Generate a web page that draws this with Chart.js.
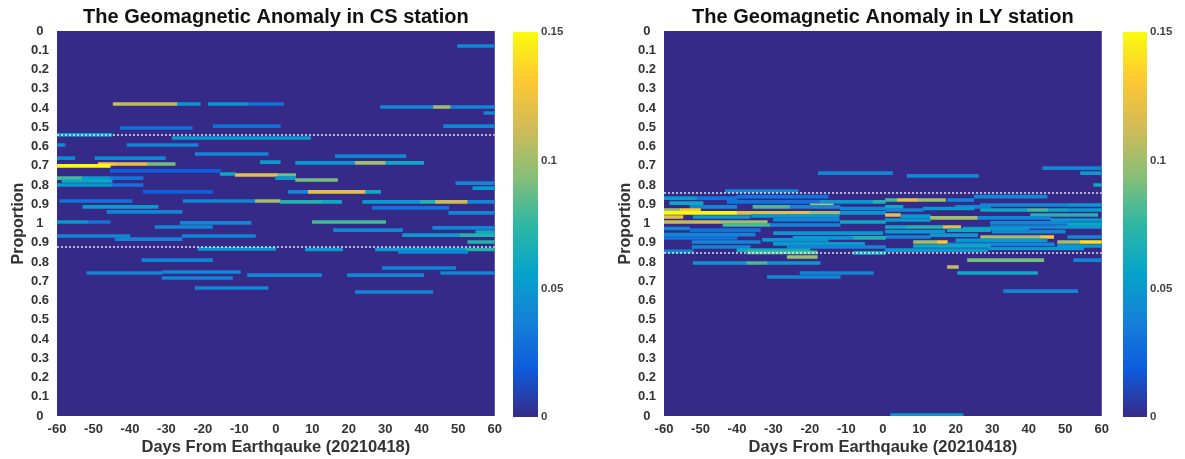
<!DOCTYPE html>
<html>
<head>
<meta charset="utf-8">
<script src="https://cdn.jsdelivr.net/npm/chart.js@4.4.1/dist/chart.umd.min.js"></script>
<style>
  body { margin: 0; background: #fff; width: 1185px; height: 459px; overflow: hidden; position: relative; }
  canvas { position: absolute; top: 0; }
</style>
</head>
<body>
<canvas id="csChart" width="508" height="459" style="left:0px"></canvas>
<canvas id="csBar" width="95" height="459" style="left:505px"></canvas>
<canvas id="lyChart" width="508" height="459" style="left:607px"></canvas>
<canvas id="lyBar" width="78" height="459" style="left:1107px"></canvas>
<script>
// tick labels
const dayTicks = [-60, -50, -40, -30, -20, -10, 0, 10, 20, 30, 40, 50, 60];
const proportionLabels = ['0', '0.1', '0.2', '0.3', '0.4', '0.5', '0.6', '0.7', '0.8', '0.9', '1',
    '0.9', '0.8', '0.7', '0.6', '0.5', '0.4', '0.3', '0.2', '0.1', '0'];
const colorbarTicks = [0, 0.05, 0.1, 0.15];
const colorbarLabels = ['0', '0.05', '0.1', '0.15'];
const colorMax = 0.15;

// dotted threshold rows (position on the proportion axis, 0 = top, 20 = bottom)
const csThresholds = [5.40, 11.22];
const lyThresholds = [8.42, 11.53];

// anomaly segments: [row, startDay, endDay, value]
const csSegments = [
    [0.78, 49.8, 60, 0.04],
    [3.79, -44.6, -27.0, 0.11], [3.79, -27.0, -20.7, 0.05], [3.79, -18.5, -7.8, 0.05], [3.79, -7.8, 2.1, 0.03],
    [3.95, 28.7, 43.2, 0.04], [3.95, 43.2, 47.9, 0.10], [3.95, 47.9, 60, 0.04],
    [4.26, 57.0, 60, 0.04],
    [4.94, -17.2, 1.2, 0.03], [4.94, 46.0, 60, 0.04],
    [5.04, -42.7, -22.9, 0.03],
    [5.40, -60, -44.9, 0.05],
    [5.56, -28.4, 9.5, 0.05],
    [5.92, -40.8, -21.3, 0.04], [5.92, -60, -57.8, 0.04],
    [6.39, -22.1, -2.1, 0.04],
    [6.50, 16.3, 35.6, 0.04],
    [6.60, -49.6, -30.3, 0.04], [6.60, -60, -55.1, 0.04],
    [6.81, -4.3, 1.2, 0.05],
    [6.85, 5.4, 21.8, 0.05], [6.85, 21.8, 30.1, 0.10], [6.85, 30.1, 40.5, 0.06],
    [6.91, -48.7, -44.1, 0.13], [6.91, -44.1, -35.3, 0.12], [6.91, -35.3, -27.6, 0.09],
    [7.01, -60, -45.4, 0.15],
    [7.27, -45.4, -15.2, 0.02],
    [7.43, -15.2, -11.1, 0.06],
    [7.48, -11.1, 0.5, 0.12], [7.48, 0.5, 5.4, 0.09],
    [7.64, -60, -53.1, 0.08], [7.64, -53.1, -45.4, 0.05], [7.64, -45.4, -36.4, 0.03], [7.64, -0.1, 5.4, 0.05],
    [7.74, 5.4, 16.9, 0.09],
    [7.79, -58.6, -44.9, 0.06],
    [7.90, 49.3, 60, 0.04],
    [8.00, -60, -44.9, 0.05], [8.00, -44.9, -36.4, 0.03],
    [8.16, 54.0, 60, 0.05],
    [8.36, -36.4, -17.4, 0.02], [8.36, 3.4, 8.9, 0.04], [8.36, 8.9, 24.6, 0.12], [8.36, 24.6, 28.7, 0.06],
    [8.83, -59.2, -39.4, 0.03], [8.83, -25.4, -5.6, 0.04], [8.83, -5.6, 1.2, 0.10],
    [8.88, 1.2, 12.8, 0.07], [8.88, 12.8, 18.0, 0.06], [8.88, 23.8, 39.7, 0.05], [8.88, 39.7, 43.8, 0.07],
    [8.88, 43.8, 52.6, 0.11], [8.88, 52.6, 60, 0.04],
    [9.14, -52.9, -32.3, 0.05],
    [9.19, 26.5, 47.4, 0.03],
    [9.40, -46.3, -25.7, 0.04],
    [9.45, 47.4, 60, 0.04],
    [9.92, -60, -51.5, 0.05], [9.92, -51.5, -45.4, 0.03], [9.92, 10.0, 30.1, 0.08],
    [9.97, -26.2, -6.8, 0.04],
    [10.18, -33.1, -17.4, 0.04],
    [10.23, 43.0, 60, 0.04],
    [10.34, 15.8, 34.7, 0.04],
    [10.44, 54.8, 60, 0.06],
    [10.60, 34.7, 50.5, 0.05], [10.60, 50.5, 60, 0.07],
    [10.65, -60, -40.0, 0.04], [10.65, -25.7, -5.6, 0.04],
    [10.81, -44.1, -25.7, 0.04],
    [10.96, 52.6, 60, 0.07],
    [11.32, -21.3, 0.0, 0.05],
    [11.35, 8.1, 18.3, 0.05], [11.35, 27.3, 52.0, 0.05], [11.35, 52.0, 60, 0.07],
    [11.48, 33.6, 52.6, 0.04],
    [11.90, -36.7, -17.4, 0.04],
    [12.31, 29.2, 49.3, 0.04],
    [12.52, -31.2, -9.7, 0.04],
    [12.57, -51.8, -31.2, 0.04], [12.57, 45.2, 60, 0.04],
    [12.68, -7.8, 12.5, 0.04], [12.68, 19.6, 40.5, 0.04],
    [12.83, -31.2, -11.9, 0.04],
    [13.35, -22.1, -2.1, 0.04],
    [13.56, 21.8, 43.0, 0.04]
];

const lySegments = [
    [7.12, 43.8, 60, 0.04],
    [7.38, 54.2, 60, 0.05], [7.38, -17.7, 2.6, 0.04],
    [7.53, 6.7, 26.2, 0.04],
    [8.00, 57.8, 60, 0.06],
    [8.31, -43.2, -23.2, 0.04],
    [8.60, -40.0, -15.0, 0.03], [8.60, 25.0, 45.0, 0.04],
    [8.68, -60, -50.9, 0.05], [8.68, -50.9, -40.0, 0.03],
    [8.78, 0.7, 4.0, 0.08], [8.78, 4.0, 9.5, 0.12], [8.78, 9.5, 17.2, 0.10], [8.78, 17.7, 24.9, 0.04],
    [8.88, -42.7, -17.2, 0.03], [8.88, -17.2, -2.6, 0.05], [8.88, -2.6, 0.7, 0.07],
    [8.94, -58.4, -49.3, 0.06],
    [9.04, 26.8, 50.7, 0.04], [9.04, 50.7, 60, 0.05],
    [9.06, -19.9, -13.6, 0.11],
    [9.14, -52.9, -40.0, 0.04], [9.14, -35.6, -25.4, 0.08], [9.14, -25.4, -11.7, 0.04],
    [9.14, 0.7, 5.5, 0.06], [9.14, 19.9, 29.5, 0.04],
    [9.22, -11.7, 0.7, 0.04], [9.22, 11.0, 25.0, 0.05],
    [9.30, -60, -55.6, 0.10], [9.30, -55.6, -50.0, 0.13], [9.30, 0.7, 11.1, 0.04],
    [9.30, 26.8, 39.7, 0.06], [9.30, 39.7, 45.2, 0.08], [9.30, 45.2, 50.7, 0.06], [9.30, 50.7, 60, 0.05],
    [9.45, -60, -40.0, 0.15], [9.45, -40.0, -19.9, 0.12], [9.45, -19.9, -11.7, 0.10], [9.45, -11.7, 0.7, 0.05],
    [9.56, 0.7, 4.8, 0.12], [9.56, 40.5, 58.9, 0.07],
    [9.60, -36.0, -12.0, 0.05], [9.62, 5.0, 13.0, 0.05],
    [9.66, -60, -54.8, 0.12], [9.66, -52.0, -36.4, 0.05],
    [9.71, 13.0, 26.0, 0.10], [9.71, 26.0, 46.0, 0.04],
    [9.80, -30.0, -12.0, 0.04], [9.82, 0.7, 13.0, 0.05], [9.82, 46.0, 60, 0.05],
    [9.92, -60, -44.6, 0.11], [9.92, -44.6, -31.7, 0.10], [9.92, -11.7, 0.7, 0.06],
    [9.97, 29.5, 50.7, 0.04], [10.03, 50.7, 60, 0.06],
    [10.08, -43.8, -30.9, 0.08], [10.08, -30.9, -11.7, 0.04],
    [10.18, 0.7, 6.7, 0.06], [10.18, 6.7, 16.6, 0.07], [10.18, 16.6, 21.3, 0.12],
    [10.18, 29.5, 47.9, 0.04], [10.18, 47.9, 60, 0.05],
    [10.26, -60, -53.0, 0.04], [10.26, 22.0, 40.0, 0.05],
    [10.34, -52.9, -33.6, 0.03], [10.34, 17.7, 29.5, 0.06],
    [10.42, 0.7, 17.0, 0.05], [10.42, 30.0, 50.0, 0.04],
    [10.50, -30.0, 0.0, 0.05],
    [10.58, -60, -35.0, 0.04], [10.60, 13.0, 26.0, 0.05],
    [10.70, 0.7, 13.0, 0.04], [10.70, 26.8, 43.2, 0.10], [10.70, 43.2, 46.8, 0.13], [10.70, 50.7, 60, 0.04],
    [10.75, -60, -40.0, 0.03], [10.75, -24.6, -8.0, 0.05], [10.75, -8.0, 0.7, 0.07],
    [10.85, -33.0, -15.0, 0.05], [10.88, 20.0, 45.0, 0.05],
    [10.96, -52.3, -33.6, 0.04], [10.96, 8.4, 15.0, 0.10], [10.96, 15.0, 17.7, 0.13],
    [10.96, 47.9, 54.2, 0.10], [10.96, 54.2, 60, 0.14],
    [11.06, -30.0, -5.0, 0.05],
    [11.08, 17.7, 47.0, 0.04],
    [11.17, 8.4, 29.5, 0.06], [11.17, 47.9, 60, 0.05],
    [11.22, -52.3, -36.4, 0.04], [11.22, -26.2, 0.7, 0.04],
    [11.30, 29.0, 55.0, 0.05],
    [11.38, -40.0, -20.0, 0.06], [11.38, 0.7, 28.7, 0.05],
    [11.45, -60, -52.0, 0.04],
    [11.50, -37.2, -18.0, 0.08],
    [11.53, -8.1, 0.7, 0.06],
    [11.74, -26.2, -18.0, 0.10],
    [11.90, 23.2, 44.1, 0.09], [11.90, 52.3, 60, 0.04],
    [12.05, -52.0, -37.2, 0.05], [12.05, -37.2, -31.7, 0.08], [12.05, -31.7, -17.2, 0.05],
    [12.26, 17.7, 20.7, 0.11],
    [12.57, -22.7, -2.6, 0.04], [12.57, 20.5, 42.4, 0.06],
    [12.78, -31.7, -11.7, 0.04],
    [13.51, 33.1, 53.4, 0.04],
    [19.95, 2.1, 22.0, 0.05]
];

// parula-like colormap
const parulaStops = ['#352A87', '#0F5CDD', '#1481D6', '#06A4CA', '#2EB7A4', '#87BF77', '#D1BB59', '#FEC832', '#F9FB0E'];

function hexToRgb(h) {
    return [parseInt(h.slice(1, 3), 16), parseInt(h.slice(3, 5), 16), parseInt(h.slice(5, 7), 16)];
}

function parula(t) {
    t = Math.max(0, Math.min(1, t));
    const pos = t * (parulaStops.length - 1);
    const i = Math.min(Math.floor(pos), parulaStops.length - 2);
    const f = pos - i;
    const a = hexToRgb(parulaStops[i]);
    const b = hexToRgb(parulaStops[i + 1]);
    const c = a.map((v, k) => Math.round(v + (b[k] - v) * f));
    return `rgb(${c[0]}, ${c[1]}, ${c[2]})`;
}

Chart.defaults.font.family = '"Liberation Sans", Arial, sans-serif';
Chart.defaults.font.weight = 'bold';

const plotBackground = {
    id: 'plotBackground',
    beforeDatasetsDraw(chart) {
        const { ctx, chartArea } = chart;
        ctx.save();
        ctx.fillStyle = parulaStops[0];
        ctx.fillRect(chartArea.left, chartArea.top, chartArea.width, chartArea.height);
        ctx.restore();
    }
};

function drawHeatmap(canvasId, title, segments, thresholds) {
    const ctx = document.getElementById(canvasId).getContext('2d');

    const datasets = [{
        type: 'bar',
        data: segments.map(s => ({ y: s[0], x: [s[1], s[2]] })),
        backgroundColor: segments.map(s => parula(s[3] / colorMax)),
        borderWidth: 0,
        barThickness: 3,
        order: 2
    }];

    thresholds.forEach(r => {
        datasets.push({
            type: 'line',
            data: [{ x: -60, y: r }, { x: 60, y: r }],
            borderColor: 'rgba(255, 255, 255, 0.85)',
            borderWidth: 1.5,
            borderDash: [2, 2],
            pointRadius: 0,
            order: 1
        });
    });

    new Chart(ctx, {
        type: 'bar',
        data: { datasets: datasets },
        options: {
            responsive: false,
            animation: false,
            indexAxis: 'y',
            layout: { padding: { left: 0, right: 0, top: 0, bottom: 0 } },
            plugins: {
                legend: { display: false },
                tooltip: { enabled: false },
                title: {
                    display: true,
                    text: title,
                    fullSize: false,
                    color: '#111',
                    font: { size: 20, weight: 'bold' },
                    padding: { top: 5, bottom: 2 }
                }
            },
            scales: {
                x: {
                    type: 'linear',
                    min: -60,
                    max: 60,
                    offset: false,
                    grid: { display: false, drawTicks: false },
                    border: { display: false },
                    afterBuildTicks: scale => { scale.ticks = dayTicks.map(v => ({ value: v })); },
                    afterFit: scale => { scale.height = 43; },
                    ticks: {
                        color: '#333',
                        font: { size: 13, weight: 'bold' },
                        padding: 6,
                        maxRotation: 0,
                        autoSkip: false,
                        callback: v => String(v)
                    },
                    title: {
                        display: true,
                        text: 'Days From Earthqauke (20210418)',
                        color: '#333',
                        font: { size: 16.5, weight: 'bold' },
                        padding: { top: 0, bottom: 2 }
                    }
                },
                y: {
                    type: 'linear',
                    min: 0,
                    max: 20,
                    reverse: true,
                    offset: false,
                    grid: { display: false, drawTicks: false },
                    border: { display: false },
                    afterBuildTicks: scale => { scale.ticks = proportionLabels.map((l, i) => ({ value: i })); },
                    afterFit: scale => { scale.width = 57; },
                    ticks: {
                        color: '#333',
                        font: { size: 13, weight: 'bold' },
                        padding: 8,
                        crossAlign: 'center',
                        autoSkip: false,
                        callback: (v, i) => proportionLabels[i]
                    },
                    title: {
                        display: true,
                        text: 'Proportion',
                        color: '#333',
                        font: { size: 16, weight: 'bold' },
                        padding: { top: 9, bottom: 0 }
                    }
                }
            }
        },
        plugins: [plotBackground]
    });
}

function drawColorbar(canvasId, padLeft, axisWidth) {
    const ctx = document.getElementById(canvasId).getContext('2d');
    new Chart(ctx, {
        type: 'bar',
        data: {
            labels: [''],
            datasets: [{
                data: [[0, colorMax]],
                borderWidth: 0,
                barPercentage: 1,
                categoryPercentage: 1,
                backgroundColor: c => {
                    const area = c.chart.chartArea;
                    if (!area) return parulaStops[0];
                    const g = c.chart.ctx.createLinearGradient(0, area.bottom, 0, area.top);
                    parulaStops.forEach((col, i) => g.addColorStop(i / (parulaStops.length - 1), col));
                    return g;
                }
            }]
        },
        options: {
            responsive: false,
            animation: false,
            layout: { padding: { left: padLeft, right: 0, top: 32, bottom: 42 } },
            plugins: { legend: { display: false }, tooltip: { enabled: false } },
            scales: {
                x: { display: false },
                y: {
                    position: 'right',
                    min: 0,
                    max: colorMax,
                    grid: { display: false, drawTicks: false },
                    border: { display: false },
                    afterBuildTicks: scale => { scale.ticks = colorbarTicks.map(v => ({ value: v })); },
                    afterFit: scale => { scale.width = axisWidth; },
                    ticks: {
                        color: '#444',
                        font: { size: 11.5, weight: 'bold' },
                        padding: 3,
                        callback: (v, i) => colorbarLabels[i]
                    }
                }
            }
        }
    });
}

drawHeatmap('csChart', 'The Geomagnetic Anomaly in CS station', csSegments, csThresholds);
drawColorbar('csBar', 8, 62);
drawHeatmap('lyChart', 'The Geomagnetic Anomaly in LY station', lySegments, lyThresholds);
drawColorbar('lyBar', 16, 38);
</script>
</body>
</html>
